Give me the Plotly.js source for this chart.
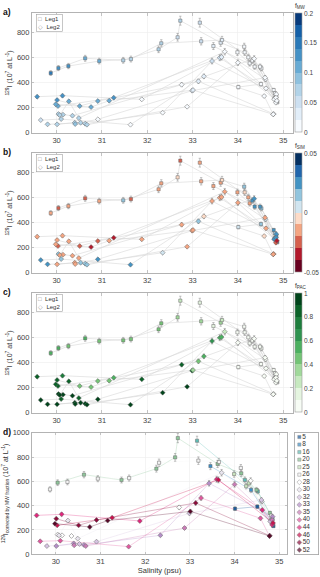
<!DOCTYPE html>
<html>
<head>
<meta charset="utf-8">
<script src="https://cdn.plot.ly/plotly-3.0.1.min.js"></script>
<style>
  html, body { margin: 0; padding: 0; background: #fff; }
  #chart { width: 320px; height: 577px; }
</style>
</head>
<body>
<div id="chart"></div>
<script>
// stations (Leg1 = squares up to st. 26, Leg2 = diamonds)
const stations = [5, 8, 16, 20, 25, 26, 28, 30, 32, 33, 35, 40, 44, 46, 50, 52];

// one entry per sample, grouped by station, ordered by salinity
const stn = [5, 5, 5,
  8, 8, 8,
  16, 16, 16, 16,
  20, 20, 20, 20, 20, 20, 20, 20, 20, 20,
  25, 25, 25, 25,
  26, 26, 26, 26, 26, 26, 26, 26, 26,
  28, 28, 28, 28, 28, 28,
  30, 30, 30, 30, 30, 30,
  32, 32, 32, 32, 32, 32,
  33, 33, 33, 33, 33, 33,
  35, 35, 35, 35, 35,
  40, 40, 40, 40, 40, 40,
  44, 44, 44, 44, 44, 44,
  46, 46, 46, 46,
  50, 50, 50, 50, 50,
  52, 52, 52, 52, 52];
const sal = [34.01, 34.51, 34.87,
  33.46, 34.37, 34.86,
  33.16, 34.23, 34.52, 34.85,
  30.04, 30.63, 31.47, 32.25, 32.67, 32.73, 33.62, 34.15, 34.49, 34.79,
  33.99, 34.26, 34.32, 34.81,
  29.87, 30.26, 30.94, 31.64, 32.31, 33.19, 33.65, 34.14, 34.82,
  30.04, 30.14, 30.35, 32.76, 34.36, 34.83,
  30.07, 30.27, 30.49, 33.71, 34.61, 34.82,
  29.8, 30.53, 30.91, 32.99, 34.6, 34.8,
  30.01, 30.4, 30.63, 32.34, 33.43, 34.85,
  30.41, 30.67, 32.88, 34.0, 34.84,
  29.65, 30.1, 31.63, 33.25, 34.58, 34.78,
  29.57, 30.13, 31.88, 33.6, 34.62, 34.84,
  30.03, 31.26, 33.64, 34.86,
  30.01, 30.51, 30.91, 33.13, 34.79,
  29.98, 30.76, 31.16, 33.01, 34.78];
const i129 = [365, 389, 243,
  693, 528, 250,
  880, 603, 515, 288,
  517, 595, 579, 667, 763, 896, 720, 643, 528, 341,
  643, 555, 576, 275,
  477, 533, 573, 589, 715, 731, 741, 688, 315,
  149, 144, 136, 384, 592, 260,
  141, 251, 117, 648, 427, 270,
  67, 80, 107, 336, 440, 268,
  67, 80, 72, 160, 573, 307,
  69, 64, 208, 560, 280,
  101, 109, 64, 451, 293, 147,
  288, 296, 267, 600, 355, 240,
  213, 280, 605, 255,
  261, 213, 253, 411, 150,
  227, 205, 256, 341, 147];
const i129Corr = [375, 392, 232,
  725, 529, 245,
  934, 611, 518, 290,
  589, 655, 611, 704, 797, 956, 743, 666, 529, 340,
  660, 560, 584, 280,
  534, 595, 622, 627, 753, 770, 759, 710, 318,
  162, 156, 151, 386, 605, 262,
  156, 277, 129, 671, 433, 272,
  68, 85, 104, 337, 447, 270,
  68, 90, 77, 156, 584, 310,
  74, 68, 216, 575, 282,
  107, 112, 63, 463, 296, 151,
  320, 329, 274, 617, 364, 242,
  238, 301, 612, 258,
  293, 238, 282, 422, 152,
  252, 225, 277, 353, 151];
const fMW = [0.01, 0.01, 0,
  0.04, 0.01, 0,
  0.05, 0.02, 0.01, 0,
  0.13, 0.11, 0.08, 0.06, 0.05, 0.06, 0.04, 0.02, 0.01, 0,
  0.02, 0.02, 0.01, 0,
  0.14, 0.13, 0.1, 0.08, 0.06, 0.05, 0.04, 0.01, 0,
  0.07, 0.07, 0.06, 0.01, 0.01, 0,
  0.08, 0.1, 0.07, 0.02, 0.01, 0,
  0.06, 0.06, 0.01, 0.03, 0.01, 0,
  0.07, 0.08, 0.06, 0.01, 0.05, 0,
  0.09, 0.07, 0.01, 0.01, 0,
  0.05, 0.08, 0.01, 0.03, 0.01, 0,
  0.13, 0.12, 0.01, 0.05, 0.01, 0,
  0.1, 0.12, 0.04, 0,
  0.12, 0.11, 0.11, 0.04, 0,
  0.1, 0.11, 0.1, 0.03, 0];
const fSIM = [0.005, 0.01, 0.015,
  -0.015, 0.02, 0.02,
  -0.02, -0.01, 0.015, 0.025,
  -0.03, -0.025, 0.01, -0.015, -0.005, -0.025, -0.01, -0.005, 0.02, 0.02,
  -0.01, -0.01, 0.02, 0.015,
  -0.01, -0.015, -0.01, -0.025, -0.02, -0.015, -0.005, 0.015, 0.01,
  0.01, -0.01, -0.015, -0.01, 0.025, 0.02,
  -0.01, -0.02, -0.02, -0.02, 0.005, 0.02,
  0.03, 0.01, 0.03, -0.02, -0.01, 0.02,
  -0.015, -0.015, 0.01, 0.005, -0.015, 0.02,
  -0.02, 0.01, -0.015, -0.015, 0.02,
  0.025, 0.01, 0.02, -0.005, -0.005, -0.015,
  -0.015, -0.02, -0.01, -0.015, -0.02, -0.03,
  -0.03, -0.04, -0.015, -0.035,
  -0.02, -0.03, -0.025, 0.01, -0.02,
  -0.015, -0.035, -0.02, -0.02, -0.02];
const fPAC = [0, 0, 0,
  0.1, 0, 0,
  0.1, 0, 0, 0,
  0.5, 0.5, 0.45, 0.45, 0.35, 0.2, 0.3, 0.05, 0, 0,
  0, 0, 0, 0,
  0.5, 0.45, 0.4, 0.45, 0.4, 0.3, 0.25, 0, 0,
  0.9, 0.9, 0.9, 0.8, 0, 0,
  0.9, 0.8, 0.85, 0.2, 0, 0,
  0.95, 0.9, 0.9, 0.8, 0, 0,
  0.95, 0.9, 0.9, 0.9, 0.6, 0,
  0.95, 0.9, 0.95, 0, 0,
  0.9, 0.85, 0.95, 0.55, 0, 0,
  0.8, 0.75, 0.85, 0.55, 0, 0,
  0.85, 0.5, 0.5, 0,
  0.8, 0.4, 0.45, 0.4, 0,
  0.85, 0.4, 0.45, 0.3, 0];

const xTicks = [30, 31, 32, 33, 34, 35];
const mwTicks = [0, 0.05, 0.1, 0.15, 0.2];
const simTicks = [-0.05, 0, 0.05];
const pacTicks = [0, 0.2, 0.4, 0.6, 0.8, 1];

// ---- styling ----
const W = 320, H = 577;
const px = v => v / W;
const py = v => 1 - v / H;
const FONT = "Liberation Sans, Arial, sans-serif";

const stationColors = ["#1b5c9e", "#3b8fc8", "#5cbdb5", "#8ec79a", "#c8e4bd", "#f4f4f4",
  "#ffffff", "#e9e5ef", "#d6c3e2", "#b58ec8", "#c97bb6", "#e0589e",
  "#e0267c", "#c8124e", "#8c0d3c", "#560828"];
const blues = ["#f7fbff", "#e2eef9", "#cde0f1", "#b2d3e8", "#8fc1de", "#68abd4", "#4592c6", "#2a79b8", "#1460a8", "#083b7c"];
const rdbu = ["#67001f", "#b2182b", "#d6604d", "#f4a582", "#fddbc7", "#d1e5f0", "#92c5de", "#4393c3", "#2166ac", "#053061"];
const greens = ["#f7fcf5", "#e5f5e0", "#c7e9c0", "#a1d99b", "#74c476", "#4cb060", "#2f9350", "#1d7d3c", "#0b6228", "#00441b"];

function steps(colors) {
  const out = [];
  colors.forEach((c, i) => out.push([i / colors.length, c], [(i + 1) / colors.length, c]));
  return out;
}

const isLeg1 = s => s <= 26;
const pick = (arr, idx) => idx.map(i => arr[i]);
const where = f => stn.map((s, i) => (f(s) ? i : -1)).filter(i => i >= 0);

const errBar = { type: "percent", value: 4, color: "#8a8a8a", thickness: 0.5, width: 1.2 };
const SQ = 3.2, DM = 3.8;

// panel geometry (px)
const box = [
  { top: 13.3, bottom: 132.7, left: 31.7, right: 292.7 },
  { top: 153.3, bottom: 272.7, left: 31.7, right: 292.7 },
  { top: 293.3, bottom: 412.7, left: 31.7, right: 292.7 },
  { top: 432.7, bottom: 554.3, left: 31.7, right: 287.3 }
];

const fracPanels = [
  { xa: "x", ya: "y", frac: fMW, ca: "coloraxis" },
  { xa: "x2", ya: "y2", frac: fSIM, ca: "coloraxis2" },
  { xa: "x3", ya: "y3", frac: fPAC, ca: "coloraxis3" }
];

const traces = [];

fracPanels.forEach(p => {
  stations.forEach(s => {
    const idx = where(v => v === s);
    traces.push({
      type: "scatter", mode: "lines", xaxis: p.xa, yaxis: p.ya,
      x: pick(sal, idx), y: pick(i129, idx),
      line: { color: "#d6d6d6", width: 0.6 },
      hoverinfo: "skip", showlegend: false
    });
  });
  [true, false].forEach(leg1 => {
    const idx = where(s => isLeg1(s) === leg1);
    traces.push({
      type: "scatter", mode: "markers", xaxis: p.xa, yaxis: p.ya,
      x: pick(sal, idx), y: pick(i129, idx),
      error_y: errBar,
      marker: {
        symbol: leg1 ? "square" : "diamond", size: leg1 ? SQ : DM,
        color: pick(p.frac, idx), coloraxis: p.ca,
        line: { color: "#666", width: 0.5 }
      },
      hoverinfo: "skip", showlegend: false
    });
  });
});

// panel d: coloured by station
stations.forEach((s, k) => {
  const idx = where(v => v === s);
  traces.push({
    type: "scatter", mode: "lines", xaxis: "x4", yaxis: "y4",
    x: pick(sal, idx), y: pick(i129Corr, idx),
    line: { color: stationColors[k], width: 0.6 }, opacity: 0.5,
    hoverinfo: "skip", showlegend: false
  });
});
stations.forEach((s, k) => {
  const idx = where(v => v === s);
  traces.push({
    type: "scatter", mode: "markers", xaxis: "x4", yaxis: "y4",
    x: pick(sal, idx), y: pick(i129Corr, idx),
    error_y: errBar,
    marker: {
      symbol: isLeg1(s) ? "square" : "diamond", size: isLeg1(s) ? SQ : DM,
      color: stationColors[k], line: { color: "#666", width: 0.5 }
    },
    hoverinfo: "skip", showlegend: false
  });
});

// station key for panel d
traces.push({
  type: "scatter", mode: "markers+text", xaxis: "x5", yaxis: "y5",
  x: stations.map(() => 0.2), y: stations.map((_, i) => i),
  text: stations.map(String), textposition: "middle right",
  textfont: { size: 6.5, color: "#333", family: FONT },
  marker: {
    symbol: stations.map(s => (isLeg1(s) ? "square" : "diamond")),
    size: stations.map(s => (isLeg1(s) ? SQ : DM)),
    color: stationColors, line: { color: "#666", width: 0.5 }
  },
  hoverinfo: "skip", showlegend: false
});

function axis(extra) {
  return Object.assign({
    showline: true, mirror: "allticks", linecolor: "#a0a0a0", linewidth: 0.8,
    ticks: "inside", ticklen: 2.5, tickcolor: "#a0a0a0", tickwidth: 0.6,
    showgrid: true, gridcolor: "#ececec", gridwidth: 0.6, zeroline: false,
    tickfont: { size: 7.5, color: "#444", family: FONT }, automargin: false
  }, extra);
}

const yTitle = "<sup>129</sup>I (10<sup>7</sup> at L<sup>-1</sup>)";
const layout = {
  width: W, height: H,
  margin: { l: 0, r: 0, t: 0, b: 0 },
  paper_bgcolor: "#fff", plot_bgcolor: "#fff",
  font: { family: FONT, color: "#333", size: 7 },
  showlegend: false,
  annotations: [],
  coloraxis: { cmin: 0, cmax: 0.2, colorscale: steps(blues), colorbar: {} },
  coloraxis2: { cmin: -0.05, cmax: 0.05, colorscale: steps(rdbu), colorbar: {} },
  coloraxis3: { cmin: 0, cmax: 1, colorscale: steps(greens), colorbar: {} }
};

const cbTicks = [mwTicks, simTicks, pacTicks];
const cbTitles = ["f<sub>MW</sub>", "f<sub>SIM</sub>", "f<sub>PAC</sub>"];
["coloraxis", "coloraxis2", "coloraxis3"].forEach((ca, i) => {
  const b = box[i];
  layout[ca].colorbar = {
    x: px(294.7), xanchor: "left", xpad: 0, ypad: 0,
    y: py(b.top), yanchor: "top", len: (b.bottom - b.top) / H, lenmode: "fraction",
    thickness: 7, outlinewidth: 0.6, outlinecolor: "#999",
    tickvals: cbTicks[i], ticktext: cbTicks[i].map(String),
    ticks: "", tickfont: { size: 6.5, color: "#444", family: FONT }
  };
  layout.annotations.push({
    xref: "paper", yref: "paper", x: px(293), y: py(b.top - 1), xanchor: "left", yanchor: "bottom",
    text: cbTitles[i], showarrow: false, font: { size: 6.5, color: "#333" }
  });
});

box.forEach((b, i) => {
  const n = i === 0 ? "" : String(i + 1);
  const isD = i === 3;
  const xa = axis({
    domain: [px(b.left), px(b.right)], anchor: "y" + n,
    range: isD ? [29.46, 35.18] : [29.45, 35.21],
    tickvals: xTicks
  });
  if (isD) xa.title = { text: "Salinity (psu)", font: { size: 7.5, color: "#333" }, standoff: 2 };
  layout["xaxis" + n] = xa;
  layout["yaxis" + n] = axis({
    domain: [py(b.bottom), py(b.top)], anchor: "x" + n,
    range: isD ? [0, 1000] : [0, 955],
    dtick: 200,
    title: {
      text: isD ? "<sup>129</sup>I<sub>corrected by MW fraction</sub> (10<sup>7</sup> at L<sup>-1</sup>)" : yTitle,
      font: { size: 7, color: "#333" }, standoff: 3
    }
  });
  layout.annotations.push({
    xref: "paper", yref: "paper", x: px(1), y: py(b.top - 8), xanchor: "left", yanchor: "top",
    text: "<b>" + "abcd"[i] + ")</b>", showarrow: false, font: { size: 8.5, color: "#111" }
  });
  if (!isD) {
    layout.annotations.push({
      xref: "paper", yref: "paper", x: px(36), y: py(b.top + 1), xanchor: "left", yanchor: "top",
      text: "<span style='color:#8a8a8a'>□</span>  Leg1<br><span style='color:#8a8a8a'>◇</span>  Leg2",
      align: "left", showarrow: false, bgcolor: "#fff", bordercolor: "#a0a0a0", borderwidth: 0.6,
      borderpad: 1.5, font: { size: 6, color: "#333" }
    });
  }
});

layout.xaxis5 = {
  domain: [px(294.7), px(318)], anchor: "y5", range: [0, 1],
  showline: true, mirror: true, linecolor: "#a0a0a0", linewidth: 0.8,
  showgrid: false, zeroline: false, showticklabels: false, ticks: ""
};
layout.yaxis5 = {
  domain: [py(554.5), py(432.5)], anchor: "x5", range: [15.6, -0.6],
  showline: true, mirror: true, linecolor: "#a0a0a0", linewidth: 0.8,
  showgrid: false, zeroline: false, showticklabels: false, ticks: ""
};

Plotly.newPlot("chart", traces, layout, { displayModeBar: false, staticPlot: true });
</script>
</body>
</html>
